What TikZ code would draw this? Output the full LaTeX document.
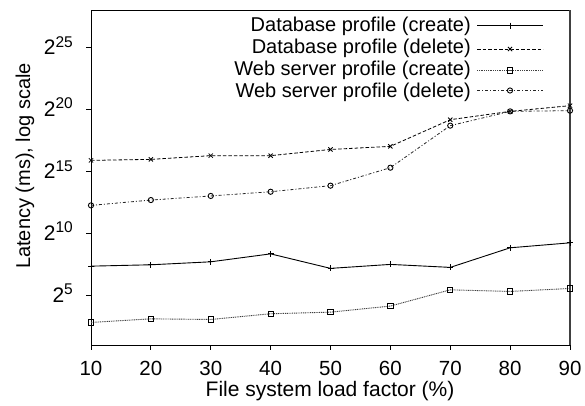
\documentclass[tikz,border=0pt]{standalone}
\usepackage{fontspec}
\setmainfont{Liberation Sans}
\usetikzlibrary{plotmarks}
\newcommand{\ytl}[1]{\fontsize{21}{24}\selectfont 2\raisebox{7.5pt}{\fontsize{15.5}{18}\selectfont #1}}
\begin{document}
\begin{tikzpicture}[x=1pt,y=-1pt,
  every node/.style={font=\fontsize{20}{24}\selectfont, inner sep=0pt},
  axisline/.style={line width=0.9pt, black},
  tickmark/.style={line width=0.8pt, black},
  dbcreate/.style={line width=0.9pt, black, mark=+, mark size=3pt, mark options={solid}},
  dbdelete/.style={line width=0.8pt, black, dash pattern=on 3.5pt off 2pt, mark=x, mark size=3pt, mark options={solid}},
  webcreate/.style={line width=0.9pt, black!75, dash pattern=on 1pt off 0.8pt, mark=square, mark size=2.6pt, mark options={solid, black, line width=0.9pt}},
  webdelete/.style={line width=0.8pt, black!85, dash pattern=on 3pt off 2pt on 1pt off 2pt, mark=o, mark size=2.6pt, mark options={solid, black, line width=0.9pt}}]
\useasboundingbox (0,0) rectangle (585,405);
\fill[white] (0,0) rectangle (585,405);

% frame
\draw[axisline] (91,10) rectangle (570,345);
\draw[line width=1.6pt, black!75] (570,10) -- (570,345);

% x ticks and labels
\foreach \v [count=\i from 0] in {10,20,...,90} {
  \draw[tickmark] ({91+\i*59.875},345) -- ({91+\i*59.875},350);
  \node (xt\v) at ({91+\i*59.875},368) {\fontsize{20.5}{24}\selectfont\v};
}
% y ticks and labels
\foreach \e/\yy in {5/295.3,10/233.3,15/171.7,20/109.3,25/47.7} {
  \draw[tickmark] (86,\yy) -- (91,\yy);
  \node[anchor=east] (yt\e) at (73,{\yy-2}) {\ytl{\e}};
}

% axis labels
\node[rotate=90] (ylab) at (25,166) {Latency (ms), log scale};
\node (xlab) at (330,391) {\fontsize{21}{24}\selectfont File system load factor (\%)};

% data
\begin{scope}[shift={(31.125pt,-357.4pt)}, x=5.9875pt, y=12.4pt]
  \draw[dbcreate] plot coordinates {(10,7.36) (20,7.47) (30,7.71) (40,8.35) (50,7.18) (60,7.5) (70,7.26) (80,8.84) (90,9.24)};
  \draw[dbdelete] plot coordinates {(10,15.89) (20,15.97) (30,16.27) (40,16.27) (50,16.77) (60,17.02) (70,19.17) (80,19.84) (90,20.3)};
  \draw[webcreate] plot coordinates {(10,2.82) (20,3.11) (30,3.06) (40,3.52) (50,3.65) (60,4.14) (70,5.45) (80,5.32) (90,5.56)};
  \draw[webdelete] plot coordinates {(10,12.26) (20,12.69) (30,13.02) (40,13.36) (50,13.85) (60,15.3) (70,18.69) (80,19.84) (90,19.9)};
\end{scope}

% legend
\node[anchor=east] (l1) at (471,26) {Database profile (create)};
\node[anchor=east] (l2) at (471,48.5) {Database profile (delete)};
\node[anchor=east] (l3) at (471,70.5) {Web server profile (create)};
\node[anchor=east] (l4) at (471,92) {Web server profile (delete)};
\draw[dbcreate, mark indices={2}] plot coordinates {(477,25.5) (510,25.5) (543,25.5)};
\draw[dbdelete, mark indices={2}] plot coordinates {(477,49) (510,49) (543,49)};
\draw[webcreate, mark indices={2}] plot coordinates {(477,70.5) (510,70.5) (543,70.5)};
\draw[webdelete, mark indices={2}] plot coordinates {(477,90.5) (510,90.5) (543,90.5)};
\end{tikzpicture}
\end{document}
